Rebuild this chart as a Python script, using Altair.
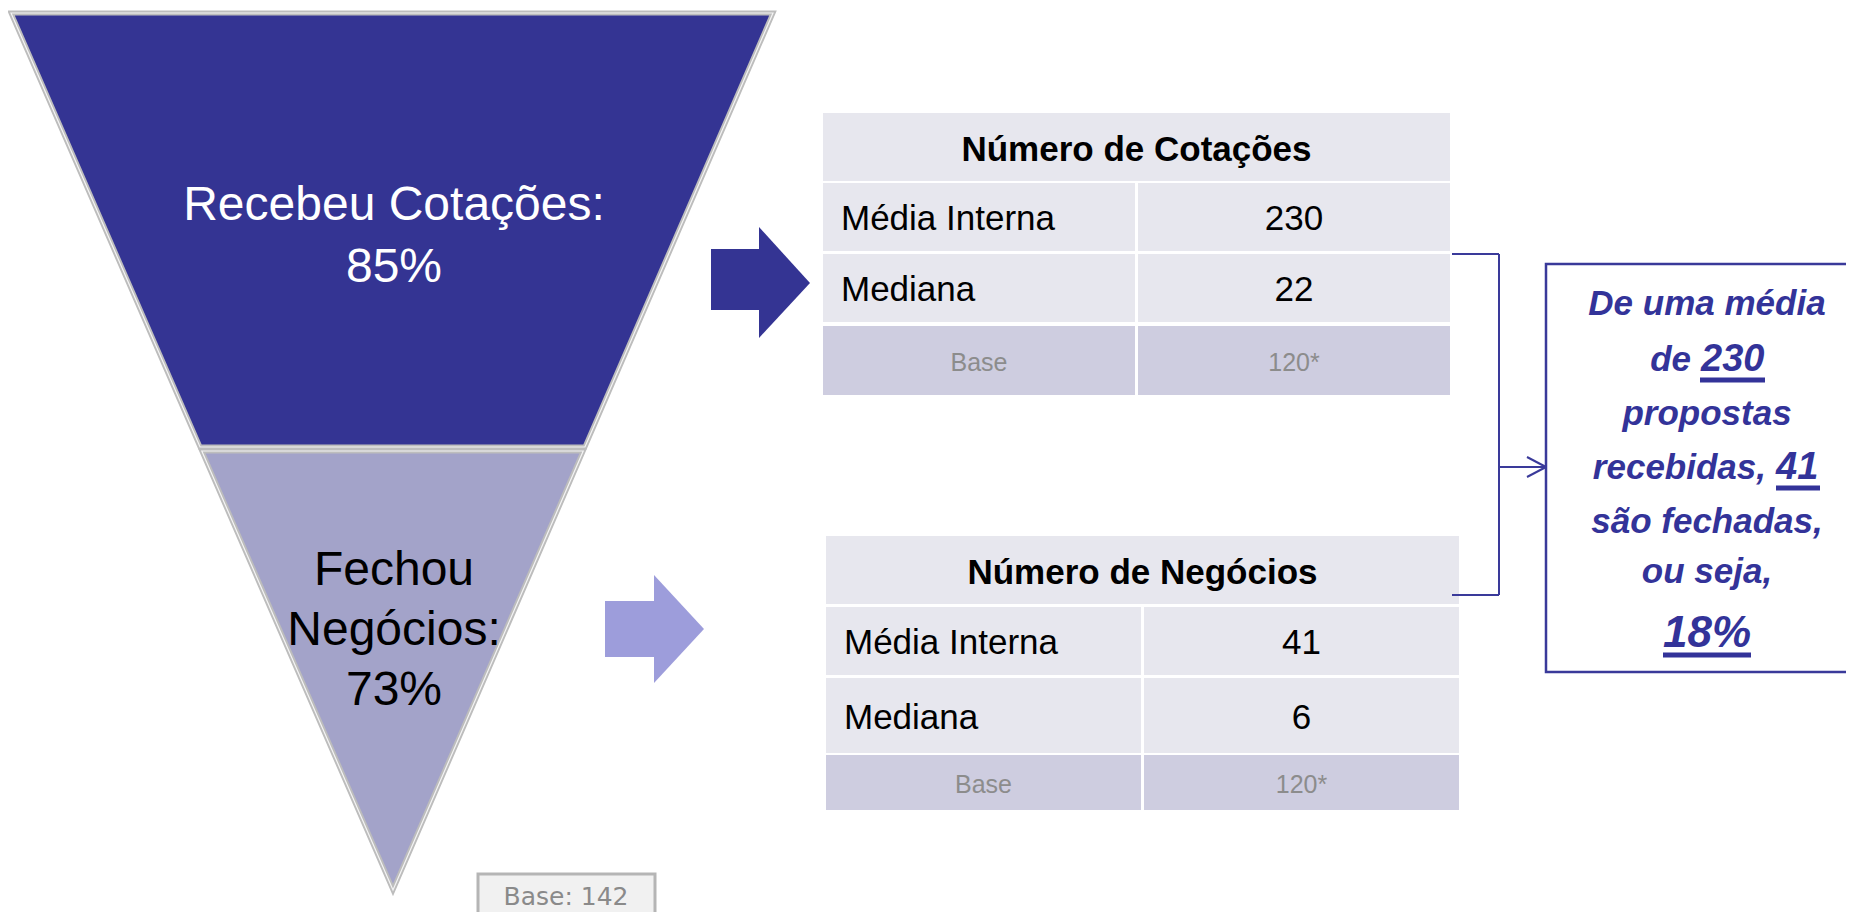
import altair as alt
import pandas as pd

# ---------------- data ----------------
funnel_stage_lines = [["Recebeu Cotações:"], ["Fechou", "Negócios:"]]
funnel_pcts = ["85%", "73%"]
table_titles = ["Número de Cotações", "Número de Negócios"]
row_labels = ["Média Interna", "Mediana"]
cotacoes_values = [230, 22]
negocios_values = [41, 6]
base_label = "Base"
table_bases = ["120*", "120*"]
sample_base = "Base: 142"
closed_share = "18%"

# ---------------- layout (pixel geometry of the page) ----------------
W, H = 1838, 904
xs = alt.Scale(domain=[8, 8 + W], range=[0, W], nice=False, zero=False)
ys = alt.Scale(domain=[8, 8 + H], range=[0, H], nice=False, zero=False)

NARROW = "Liberation Sans Narrow, Arial Narrow, Liberation Sans, sans-serif"
SANS = "Liberation Sans, Arial, sans-serif"
DARK = "#343493"
LIGHT_FUNNEL = "#A3A3C9"
LIGHT_ARROW = "#9D9DDB"
CELL = "#E7E7EE"
BASECELL = "#CECDE0"
LINE = "#3A3A9A"
TXT_BLUE = "#333399"


def X(f):
    return alt.X(f, type="quantitative", scale=xs, axis=None)


def X2(f):
    return alt.X2(f)


def Y(f):
    return alt.Y(f, type="quantitative", scale=ys, axis=None)


def Y2(f):
    return alt.Y2(f)


layers = []

# ---- funnel ----
apex = (393, 890)
top_y, top_l, top_r = 13, 11, 773
split_y = 449


def edge_x(y, side):
    x0 = top_l if side == "l" else top_r
    return x0 + (apex[0] - x0) * (y - top_y) / (apex[1] - top_y)


dark_df = pd.DataFrame({
    "y": [top_y, split_y - 2],
    "xl": [top_l, edge_x(split_y - 2, "l")],
    "xr": [top_r, edge_x(split_y - 2, "r")],
})
light_df = pd.DataFrame({
    "y": [split_y + 2, apex[1]],
    "xl": [edge_x(split_y + 2, "l"), apex[0]],
    "xr": [edge_x(split_y + 2, "r"), apex[0]],
})
for df, col in [(dark_df, DARK), (light_df, LIGHT_FUNNEL)]:
    layers.append(
        alt.Chart(df).mark_area(orient="horizontal", color=col, stroke="#BDBDBD",
                                strokeWidth=5, strokeJoin="miter")
        .encode(y=Y("y"), x=X("xl"), x2=X2("xr"))
    )
    layers.append(
        alt.Chart(df).mark_area(orient="horizontal", fill=None, fillOpacity=0,
                                stroke="#F4F4F4", strokeWidth=1.2, strokeJoin="miter")
        .encode(y=Y("y"), x=X("xl"), x2=X2("xr"))
    )

# funnel texts
ft_white = pd.DataFrame({
    "x": [394, 394],
    "y": [220, 282],
    "t": funnel_stage_lines[0] + [funnel_pcts[0]],
})
ft_black = pd.DataFrame({
    "x": [394, 394, 394],
    "y": [585, 645, 705],
    "t": funnel_stage_lines[1] + [funnel_pcts[1]],
})

# ---- arrows ----
arrows = [
    dict(x0=711, xb=759, tip=810, sy0=249, sy1=310, hy0=227, hy1=338, ty=283, col=DARK),
    dict(x0=605, xb=654, tip=704, sy0=601, sy1=657, hy0=575, hy1=683, ty=629, col=LIGHT_ARROW),
]
for a in arrows:
    shaft = pd.DataFrame({"x": [a["x0"]], "x2": [a["xb"] + 1], "y": [a["sy0"]], "y2": [a["sy1"]]})
    layers.append(alt.Chart(shaft).mark_rect(color=a["col"]).encode(
        x=X("x"), x2=X2("x2"), y=Y("y"), y2=Y2("y2")))
    head = pd.DataFrame({"x": [a["xb"], a["tip"]], "ya": [a["hy0"], a["ty"]], "yb": [a["hy1"], a["ty"]]})
    layers.append(alt.Chart(head).mark_area(orient="vertical", color=a["col"]).encode(
        x=X("x"), y=Y("ya"), y2=Y2("yb")))

# ---- tables ----
tables = [
    dict(x0=823, xm=1135, xm2=1138, x1=1450,
         rows=[(113, 181), (183, 251), (254, 322), (326, 395)],
         title=table_titles[0], vals=cotacoes_values, base=table_bases[0]),
    dict(x0=826, xm=1141, xm2=1144, x1=1459,
         rows=[(536, 604), (607, 675), (678, 753), (755, 810)],
         title=table_titles[1], vals=negocios_values, base=table_bases[1]),
]
cells, hdr, lbl, val, basetxt = [], [], [], [], []
for tb in tables:
    r = tb["rows"]
    cells.append(dict(x=tb["x0"], x2=tb["x1"], y=r[0][0], y2=r[0][1], c=CELL))
    for i in (1, 2, 3):
        c = BASECELL if i == 3 else CELL
        cells.append(dict(x=tb["x0"], x2=tb["xm"], y=r[i][0], y2=r[i][1], c=c))
        cells.append(dict(x=tb["xm2"], x2=tb["x1"], y=r[i][0], y2=r[i][1], c=c))
    cx = (tb["x0"] + tb["x1"]) / 2
    hdr.append(dict(x=cx, y=r[0][1] - 20, t=tb["title"]))
    vx = (tb["xm2"] + tb["x1"]) / 2
    for i, (lab, v) in enumerate(zip(row_labels, tb["vals"])):
        yb = (r[i + 1][0] + r[i + 1][1]) / 2 + 13
        lbl.append(dict(x=tb["x0"] + 18, y=yb, t=lab))
        val.append(dict(x=vx, y=yb, t=str(v)))
    yb = (r[3][0] + r[3][1]) / 2 + 10
    basetxt.append(dict(x=(tb["x0"] + tb["xm"]) / 2, y=yb, t=base_label))
    basetxt.append(dict(x=vx, y=yb, t=tb["base"]))

layers.append(alt.Chart(pd.DataFrame(cells)).mark_rect().encode(
    x=X("x"), x2=X2("x2"), y=Y("y"), y2=Y2("y2"),
    color=alt.Color("c:N", scale=None)))

# ---- bracket ----
segs = pd.DataFrame([
    dict(x=1452, x2=1499, y=254, y2=254),
    dict(x=1499, x2=1499, y=254, y2=595),
    dict(x=1452, x2=1499, y=595, y2=595),
    dict(x=1499, x2=1546, y=467, y2=467),
    dict(x=1527, x2=1546, y=457, y2=467),
    dict(x=1527, x2=1546, y=477, y2=467),
])
layers.append(alt.Chart(segs).mark_rule(color=LINE, strokeWidth=2).encode(
    x=X("x"), x2=X2("x2"), y=Y("y"), y2=Y2("y2")))

# ---- summary box ----
box = pd.DataFrame({"x": [1546], "x2": [1852], "y": [264], "y2": [672]})
layers.append(alt.Chart(box).mark_rect(fill="white", stroke=LINE, strokeWidth=2.5).encode(
    x=X("x"), x2=X2("x2"), y=Y("y"), y2=Y2("y2")))

v_cot = str(cotacoes_values[0])
v_neg = str(negocios_values[0])
sum_center = pd.DataFrame([
    dict(x=1707, y=315, t="De uma média"),
    dict(x=1707, y=425, t="propostas"),
    dict(x=1707, y=533, t="são fechadas,"),
    dict(x=1707, y=583, t="ou seja,"),
])
sum_right = pd.DataFrame([
    dict(x=1691, y=371, t="de"),
    dict(x=1766, y=479, t="recebidas,"),
])
sum_left = pd.DataFrame([
    dict(x=1701, y=371, t=v_cot),
    dict(x=1776, y=479, t=v_neg),
])
sum_big = pd.DataFrame([dict(x=1707, y=647, t=closed_share)])
underl = pd.DataFrame([
    dict(x=1700, x2=1765, y=380),
    dict(x=1776, x2=1820, y=488),
    dict(x=1663, x2=1751, y=655),
])
layers.append(alt.Chart(underl).mark_rule(color=TXT_BLUE, strokeWidth=5).encode(
    x=X("x"), x2=X2("x2"), y=Y("y")))

# ---- sample base box ----
bb = pd.DataFrame({"x": [478], "x2": [655], "y": [874], "y2": [930]})
layers.append(alt.Chart(bb).mark_rect(fill="#F1F1F1", stroke="#B5B5B5", strokeWidth=3).encode(
    x=X("x"), x2=X2("x2"), y=Y("y"), y2=Y2("y2")))
bbt = pd.DataFrame([dict(x=566, y=905, t=sample_base)])


def text_layer(df, size, color, font, weight="normal", style="normal", align="center"):
    return alt.Chart(df).mark_text(
        fontSize=size, color=color, font=font, fontWeight=weight, fontStyle=style,
        align=align, baseline="alphabetic"
    ).encode(x=X("x"), y=Y("y"), text="t:N")


layers += [
    text_layer(ft_white, 48, "white", NARROW),
    text_layer(ft_black, 48, "black", NARROW),
    text_layer(pd.DataFrame(hdr), 35, "black", NARROW, weight="bold"),
    text_layer(pd.DataFrame(lbl), 35, "black", NARROW, align="left"),
    text_layer(pd.DataFrame(val), 35, "black", NARROW),
    text_layer(pd.DataFrame(basetxt), 25, "#8C8C8C", NARROW),
    text_layer(sum_center, 35, TXT_BLUE, SANS, weight="bold", style="italic"),
    text_layer(sum_right, 35, TXT_BLUE, SANS, weight="bold", style="italic", align="right"),
    text_layer(sum_left, 38, TXT_BLUE, SANS, weight="bold", style="italic", align="left"),
    text_layer(sum_big, 44, TXT_BLUE, SANS, weight="bold", style="italic"),
    text_layer(bbt, 25, "#8A8A8A", "DejaVu Sans"),
]

chart = alt.layer(*layers).properties(
    width=W, height=H, padding=0, autosize="none", background="white"
).configure_view(stroke=None)

chart.save("out.html", embed_options={"renderer": "svg", "actions": False})
